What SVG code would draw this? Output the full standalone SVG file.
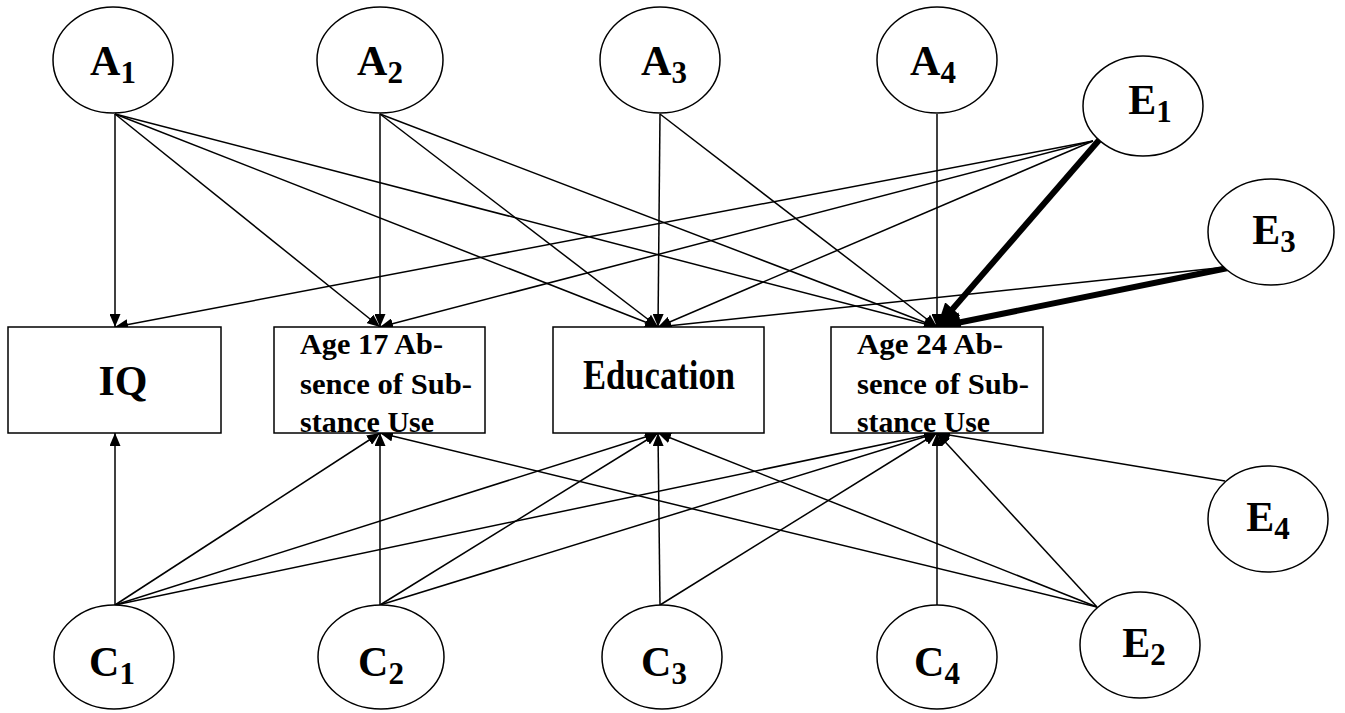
<svg xmlns="http://www.w3.org/2000/svg" width="1345" height="713" viewBox="0 0 1345 713">
<style>
.nd{fill:#fff;stroke:#000;stroke-width:1.5}
.lbl{font-family:"Liberation Serif","Times New Roman",serif;font-weight:bold;font-size:42px;fill:#000}
.sub{font-size:31px}
.bx{font-family:"Liberation Serif","Times New Roman",serif;font-weight:bold;font-size:29px;fill:#000}
.c{stroke:#000;stroke-width:1.5;fill:none;marker-end:url(#ah)}
.t{stroke:#000;stroke-width:6;fill:none;marker-end:url(#ahb)}
</style>
<defs>
<marker id="ah" markerUnits="userSpaceOnUse" markerWidth="13" markerHeight="11" refX="13" refY="5.5" orient="auto"><path d="M0,0 L13,5.5 L0,11 z" fill="#000"/></marker>
<marker id="ahb" markerUnits="userSpaceOnUse" markerWidth="24" markerHeight="20" refX="24" refY="10" orient="auto"><path d="M0,0 L24,10 L0,20 z" fill="#000"/></marker>
</defs>
<rect width="1345" height="713" fill="#fff"/>
<g id="connectors">
<line class="c" x1="115" y1="114" x2="115" y2="327"/>
<line class="c" x1="115" y1="114" x2="380" y2="327"/>
<line class="c" x1="115" y1="114" x2="658" y2="327"/>
<line class="c" x1="115" y1="114" x2="937" y2="327"/>
<line class="c" x1="380" y1="114" x2="380" y2="327"/>
<line class="c" x1="380" y1="114" x2="658" y2="327"/>
<line class="c" x1="380" y1="114" x2="937" y2="327"/>
<line class="c" x1="660" y1="114" x2="658" y2="327"/>
<line class="c" x1="660" y1="114" x2="937" y2="327"/>
<line class="c" x1="937" y1="114" x2="937" y2="327"/>
<line class="c" x1="1093" y1="141" x2="115" y2="327"/>
<line class="c" x1="1093" y1="141" x2="380" y2="327"/>
<line class="c" x1="1093" y1="141" x2="658" y2="327"/>
<line class="t" x1="1100" y1="139" x2="937" y2="327"/>
<line class="c" x1="1227" y1="267" x2="658" y2="327"/>
<line class="t" x1="1228" y1="268" x2="937" y2="327"/>
<line class="c" x1="1225" y1="481" x2="937" y2="433"/>
<line class="c" x1="1097" y1="607" x2="937" y2="433"/>
<line class="c" x1="1097" y1="607" x2="658" y2="433"/>
<line class="c" x1="1097" y1="607" x2="380" y2="433"/>
<line class="c" x1="115" y1="605" x2="115" y2="433"/>
<line class="c" x1="115" y1="605" x2="380" y2="433"/>
<line class="c" x1="115" y1="605" x2="658" y2="433"/>
<line class="c" x1="115" y1="605" x2="937" y2="433"/>
<line class="c" x1="380" y1="605" x2="380" y2="433"/>
<line class="c" x1="380" y1="605" x2="658" y2="433"/>
<line class="c" x1="380" y1="605" x2="937" y2="433"/>
<line class="c" x1="660" y1="605" x2="658" y2="433"/>
<line class="c" x1="660" y1="605" x2="937" y2="433"/>
<line class="c" x1="937" y1="605" x2="937" y2="433"/>
</g>
<g id="A1"><ellipse class="nd" cx="113" cy="60" rx="60" ry="53"/><text class="lbl" x="113" y="75" text-anchor="middle">A<tspan class="sub" dy="8">1</tspan></text></g>
<g id="A2"><ellipse class="nd" cx="380" cy="60" rx="63" ry="53"/><text class="lbl" x="380" y="75" text-anchor="middle">A<tspan class="sub" dy="8">2</tspan></text></g>
<g id="A3"><ellipse class="nd" cx="660" cy="60" rx="60" ry="53"/><text class="lbl" x="664" y="75" text-anchor="middle">A<tspan class="sub" dy="8">3</tspan></text></g>
<g id="A4"><ellipse class="nd" cx="937" cy="60" rx="60" ry="53"/><text class="lbl" x="933" y="75" text-anchor="middle">A<tspan class="sub" dy="8">4</tspan></text></g>
<g id="E1"><ellipse class="nd" cx="1143" cy="106" rx="60" ry="50"/><text class="lbl" x="1150" y="114" text-anchor="middle">E<tspan class="sub" dy="8">1</tspan></text></g>
<g id="E3"><ellipse class="nd" cx="1271" cy="232" rx="63" ry="53"/><text class="lbl" x="1274" y="244" text-anchor="middle">E<tspan class="sub" dy="8">3</tspan></text></g>
<g id="E4"><ellipse class="nd" cx="1268" cy="519" rx="60" ry="53"/><text class="lbl" x="1268" y="531" text-anchor="middle">E<tspan class="sub" dy="8">4</tspan></text></g>
<g id="E2"><ellipse class="nd" cx="1140" cy="645" rx="60" ry="53"/><text class="lbl" x="1144" y="657" text-anchor="middle">E<tspan class="sub" dy="8">2</tspan></text></g>
<g id="C1"><ellipse class="nd" cx="114" cy="657" rx="60" ry="52"/><text class="lbl" x="112" y="676" text-anchor="middle">C<tspan class="sub" dy="8">1</tspan></text></g>
<g id="C2"><ellipse class="nd" cx="381" cy="657" rx="63" ry="52"/><text class="lbl" x="381" y="676" text-anchor="middle">C<tspan class="sub" dy="8">2</tspan></text></g>
<g id="C3"><ellipse class="nd" cx="662" cy="657" rx="60" ry="52"/><text class="lbl" x="664" y="676" text-anchor="middle">C<tspan class="sub" dy="8">3</tspan></text></g>
<g id="C4"><ellipse class="nd" cx="937" cy="657" rx="60" ry="52"/><text class="lbl" x="937" y="676" text-anchor="middle">C<tspan class="sub" dy="8">4</tspan></text></g>
<g id="IQ"><rect class="nd" x="8" y="327" width="213" height="106"/><text class="lbl" x="123" y="395" text-anchor="middle" font-size="35">IQ</text></g>
<g id="Age17"><rect class="nd" x="274" y="327" width="211" height="106"/>
<text class="bx" x="300" y="354" textLength="143" lengthAdjust="spacingAndGlyphs">Age 17 Ab-</text>
<text class="bx" x="300" y="394" textLength="172" lengthAdjust="spacingAndGlyphs">sence of Sub-</text>
<text class="bx" x="300" y="432" textLength="134" lengthAdjust="spacingAndGlyphs">stance Use</text></g>
<g id="Education"><rect class="nd" x="553" y="327" width="211" height="106"/><text class="lbl" x="583" y="389" font-size="41" textLength="152" lengthAdjust="spacingAndGlyphs">Education</text></g>
<g id="Age24"><rect class="nd" x="831" y="327" width="212" height="106"/>
<text class="bx" x="857" y="354" textLength="146" lengthAdjust="spacingAndGlyphs">Age 24 Ab-</text>
<text class="bx" x="857" y="394" textLength="172" lengthAdjust="spacingAndGlyphs">sence of Sub-</text>
<text class="bx" x="857" y="432" textLength="133" lengthAdjust="spacingAndGlyphs">stance Use</text></g>
</svg>
